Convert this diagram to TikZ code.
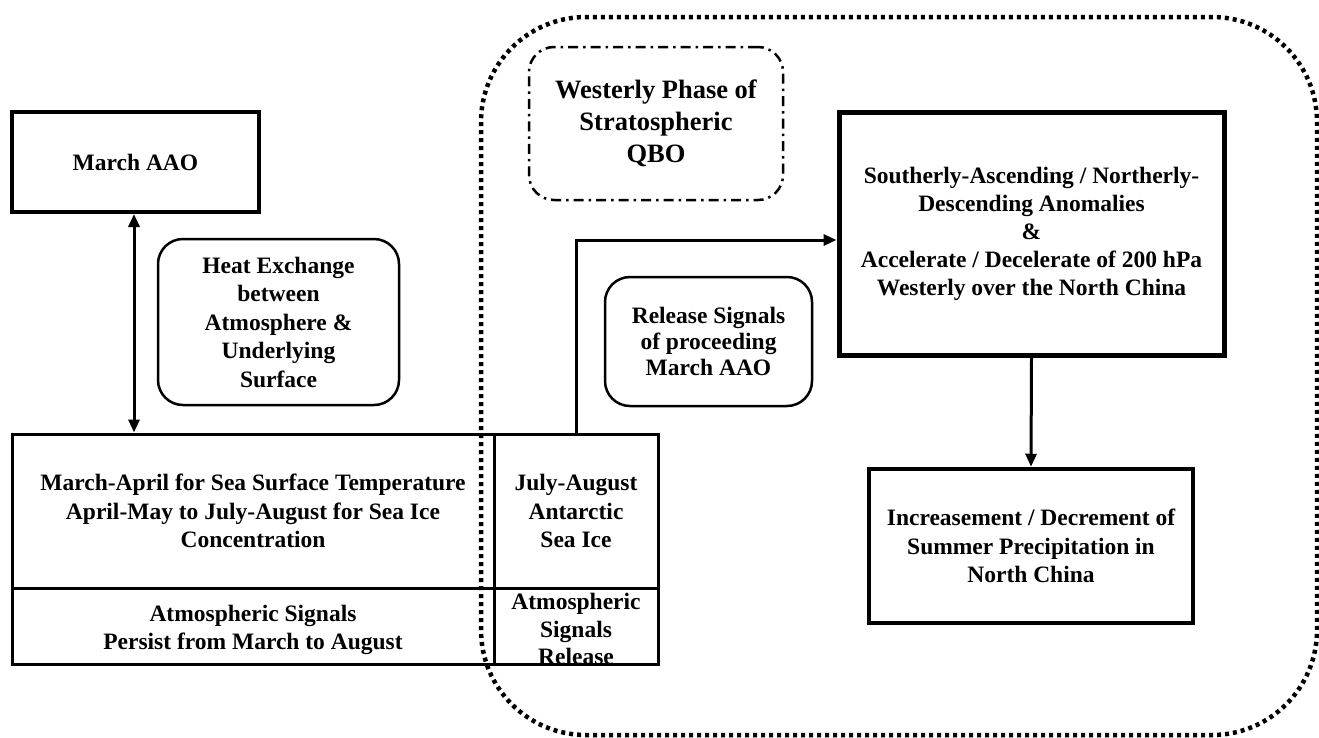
\documentclass[tikz,border=0pt]{standalone}
\usepackage{fontspec}
\setmainfont{Liberation Serif}
\usetikzlibrary{arrows.meta}
\newcommand{\mfont}{\fontsize{23.5}{28.5}\selectfont\bfseries}
\newcommand{\qfont}{\fontsize{26.5}{32}\selectfont\bfseries}
\begin{document}
\begin{tikzpicture}[x=1pt,y=-1pt,
  box/.style={draw, rectangle, align=center, font=\mfont, inner sep=0pt},
  rbox/.style={draw, rectangle, rounded corners=25pt, line width=2.5pt, align=center, font=\mfont, inner sep=0pt},
  cell/.style={draw, rectangle, line width=3pt, align=center, font=\mfont, inner sep=0pt},
  lbl/.style={align=center, font=\mfont, inner sep=0pt},
  arr/.style={line width=3pt, -{Triangle[length=13pt,width=11pt]}},
  darr/.style={line width=3pt, {Triangle[length=13pt,width=11pt]}-{Triangle[length=13pt,width=11pt]}},
  qbo/.style={draw, rectangle, rounded corners=25pt, line width=2.5pt, dash pattern=on 10pt off 5pt on 2.5pt off 5pt, align=center, font=\qfont, inner sep=0pt},
  region/.style={line width=4.5pt, dash pattern=on 4pt off 4pt, rounded corners=105pt}
]
\useasboundingbox (0,0) rectangle (1319,737);

% left column
\node[box, line width=4pt, minimum width=247pt, minimum height=100pt] (aao) at (135.5,162) {March AAO};
\node[rbox, minimum width=241pt, minimum height=166pt] (heat) at (278.5,322) {Heat Exchange\\between\\Atmosphere \&\\Underlying\\Surface};

% table
\node[cell, minimum width=482pt, minimum height=154pt] (c11) at (253,511) {March-April for Sea Surface Temperature\\April-May to July-August for Sea Ice\\Concentration};
\node[cell, minimum width=164pt, minimum height=154pt] (c12) at (576,511) {July-August\\Antarctic\\Sea Ice};
\node[cell, minimum width=482pt, minimum height=76pt] (c21) at (253,626) {};
\node[lbl] (t21) at (253,630) {Atmospheric Signals\\Persist from March to August};
\node[cell, minimum width=164pt, minimum height=76pt] (c22) at (576,626) {};
\node[lbl, font=\fontsize{23.5}{27.5}\selectfont\bfseries] (t22) at (576,629) {Atmospheric\\Signals\\Release};

% right part
\node[qbo, minimum width=254pt, minimum height=153pt] (qbo) at (656,123.5) {Westerly Phase of\\Stratospheric\\QBO};
\node[rbox, minimum width=207pt, minimum height=129pt, font=\fontsize{23.5}{26}\selectfont\bfseries] (rel) at (708.5,341.5) {Release Signals\\of proceeding\\March AAO};
\node[box, line width=5pt, minimum width=385pt, minimum height=243pt, font=\fontsize{23.5}{28}\selectfont\bfseries] (big) at (1031.5,233.5) {Southerly-Ascending / Northerly-\\Descending Anomalies\\\&\\Accelerate / Decelerate of 200 hPa\\Westerly over the North China};
\node[box, line width=4.5pt, minimum width=324pt, minimum height=154pt, font=\fontsize{23.5}{28.5}\selectfont\bfseries] (pre) at (1031,546) {Increasement / Decrement of\\Summer Precipitation in\\North China};

% connectors
\draw[darr] (aao.south -| 134,0) -- (c11.north -| 134,0);
\draw[arr] (c12.north) |- ([yshift=-6.5pt]big.west);
\draw[arr] (big.south) -- (pre.north);

% dotted region
\draw[region] (481,17) rectangle (1317,735);
\end{tikzpicture}
\end{document}
